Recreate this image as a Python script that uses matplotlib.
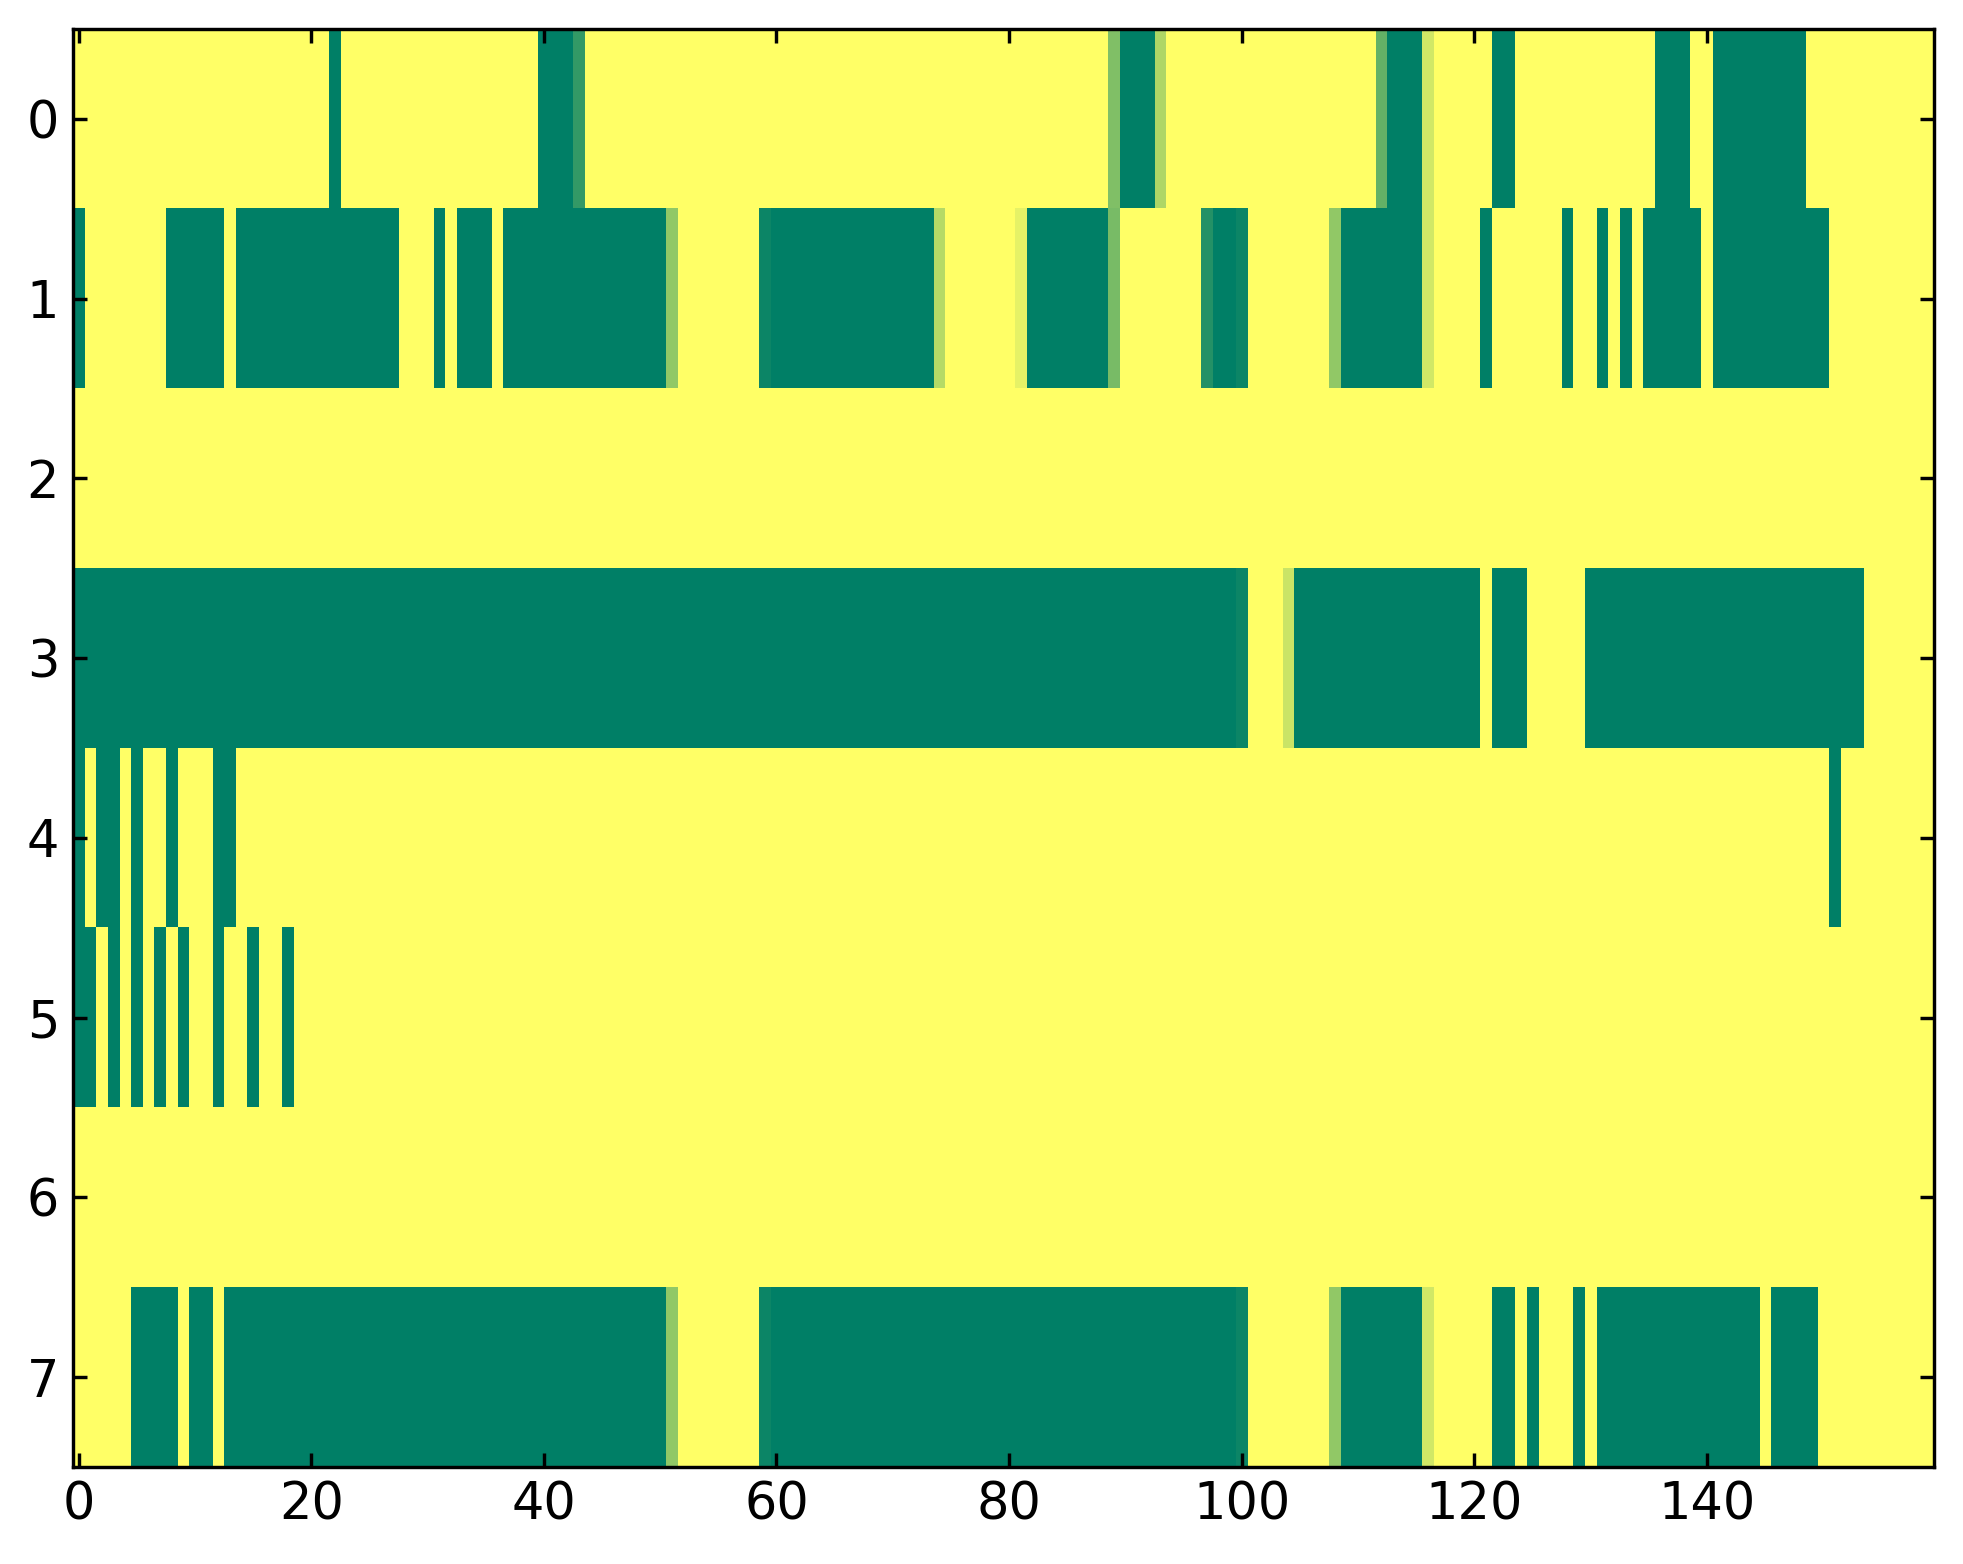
import numpy as np
import matplotlib
matplotlib.use('Agg')
from matplotlib import pyplot as plt

n_cols = 160
n_rows = 8

# green runs per row (inclusive column ranges), everything else is yellow (1.0)
green_runs = [
    [(22, 22), (40, 42), (90, 92), (113, 115), (122, 123), (136, 138), (141, 148)],
    [(0, 0), (8, 12), (14, 27), (31, 31), (33, 35), (37, 50), (60, 73), (82, 88),
     (98, 99), (109, 115), (121, 121), (128, 128), (131, 131), (133, 133),
     (135, 139), (141, 150)],
    [],
    [(0, 99), (105, 120), (122, 124), (130, 153)],
    [(0, 0), (2, 3), (5, 5), (8, 8), (12, 13), (151, 151)],
    [(0, 1), (3, 3), (5, 5), (7, 7), (9, 9), (12, 12), (15, 15), (18, 18)],
    [],
    [(5, 8), (10, 11), (13, 50), (60, 99), (109, 115), (122, 123), (125, 125),
     (129, 129), (131, 144), (146, 149)],
]

# in-between cells: {column: value}
partial = [
    {43: 0.2, 89: 0.5, 93: 0.68, 112: 0.39, 116: 0.82},
    {51: 0.57, 59: 0.05, 74: 0.71, 81: 0.9, 89: 0.47, 97: 0.14, 100: 0.05,
     108: 0.57, 116: 0.82},
    {},
    {100: 0.05, 104: 0.79},
    {},
    {},
    {},
    {51: 0.57, 59: 0.05, 100: 0.05, 108: 0.57, 116: 0.82},
]

xticks = [0, 20, 40, 60, 80, 100, 120, 140]
yticks = list(range(8))

data = np.ones((n_rows, n_cols))
for r in range(n_rows):
    for a, b in green_runs[r]:
        data[r, a:b + 1] = 0.0
    for c, v in partial[r].items():
        data[r, c] = v

fig = plt.figure(figsize=(1963 / 245, 1564 / 245), dpi=245, facecolor='white')
ax = fig.add_axes([0.0371, 0.0621, 0.948, 0.9194])
ax.imshow(data, cmap='summer', vmin=0, vmax=1, aspect='auto',
          interpolation='nearest')

ax.set_xticks(xticks)
ax.set_yticks(yticks)
ax.tick_params(direction='in', length=4, width=1, top=True, right=True,
               labelsize=15, pad=4)
for s in ax.spines.values():
    s.set_linewidth(1)

fig.savefig('out.png', dpi=245, facecolor='white')
